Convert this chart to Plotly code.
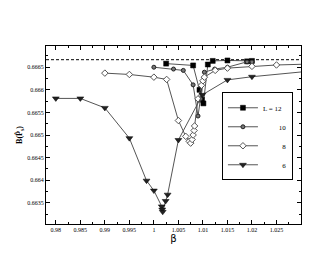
import plotly.graph_objects as go

# L = 12
b12 = [1.0025, 1.008, 1.0093, 1.0098, 1.0101, 1.011, 1.012, 1.015, 1.019, 1.02]
v12 = [0.66658, 0.66654, 0.66600, 0.66578, 0.66570, 0.66656, 0.66664, 0.66665, 0.66663, 0.66664]
# L = 10
b10 = [1.0, 1.004, 1.006, 1.008, 1.009, 1.0095, 1.0103, 1.0124, 1.015, 1.019, 1.02]
v10 = [0.66650, 0.66646, 0.66643, 0.66611, 0.66542, 0.66580, 0.66639, 0.66646, 0.66650, 0.66662, 0.66662]
# L = 8
b8 = [0.99, 0.995, 1.0, 1.0026, 1.005, 1.0065, 1.0072, 1.0075, 1.0078, 1.008, 1.0082, 1.0083,
      1.009, 1.0097, 1.01, 1.0103, 1.0125, 1.015, 1.02, 1.025, 1.035]
v8 = [0.66637, 0.66634, 0.66628, 0.66623, 0.66532, 0.66497, 0.66486, 0.66482, 0.66490, 0.66500,
      0.66510, 0.66520, 0.66580, 0.66610, 0.66620, 0.66628, 0.66643, 0.66648, 0.66652, 0.66655, 0.66658]
# L = 6
b6 = [0.98, 0.985, 0.99, 0.995, 0.9985, 1.0, 1.0016, 1.0017, 1.0018, 1.0024, 1.0028, 1.005,
      1.0099, 1.015, 1.02, 1.04]
v6 = [0.66581, 0.66581, 0.66560, 0.66493, 0.66399, 0.66377, 0.66342, 0.66335, 0.66330, 0.66354,
      0.66368, 0.66489, 0.66589, 0.66622, 0.66629, 0.66650]

names = ["L = 12", "10", "8", "6"]
critical = 2.0 / 3.0
xticks = [0.98, 0.985, 0.99, 0.995, 1.0, 1.005, 1.01, 1.015, 1.02, 1.025]
xlabels = ["0.98", "0.985", "0.99", "0.995", "1", "1.005", "1.01", "1.015", "1.02", "1.025"]
yticks = [0.6635, 0.664, 0.6645, 0.665, 0.6655, 0.666, 0.6665]
ylabels = ["0.6635", "0.664", "0.6645", "0.665", "0.6655", "0.666", "0.6665"]

serif = "Liberation Serif"
line_col = "#555555"
nb = "\u00a0"
pad = [0, 9, 11, 11]

fig = go.Figure()
styles = [
    dict(symbol="square", size=5, color="black", line=dict(color="black", width=0.5)),
    dict(symbol="circle", size=4, color="#777777", line=dict(color="#222222", width=1)),
    dict(symbol="diamond", size=5, color="white", line=dict(color="#555555", width=1)),
    dict(symbol="triangle-down", size=6, color="#222222", line=dict(color="black", width=0.5)),
]
for xs, ys, nm, p, st in zip([b12, b10, b8, b6], [v12, v10, v8, v6], names, pad, styles):
    fig.add_trace(go.Scatter(x=xs, y=ys, mode="lines+markers", name=nb * p + nm,
                             line=dict(color=line_col, width=1), marker=st))

fig.add_shape(type="line", xref="paper", x0=0, x1=1, yref="y", y0=critical, y1=critical,
              line=dict(color="black", width=1, dash="3px,2px"))

axis_common = dict(showgrid=False, zeroline=False, showline=True, linecolor="black",
                   linewidth=1, mirror="allticks", ticks="inside", ticklen=4,
                   tickcolor="black", tickwidth=1,
                   tickfont=dict(family=serif, size=6, color="black"))

fig.update_xaxes(range=[0.978, 1.03], tickvals=xticks, ticktext=xlabels,
                 minor=dict(ticks="inside", ticklen=2, dtick=0.0025, tick0=0.98,
                            tickcolor="black"),
                 title=dict(text="β", font=dict(family="DejaVu Sans", size=10, color="black"),
                            standoff=1),
                 **axis_common)
fig.update_yaxes(range=[0.66303, 0.66697], tickvals=yticks, ticktext=ylabels,
                 minor=dict(ticks="inside", ticklen=2, dtick=0.00025, tick0=0.6635,
                            tickcolor="black"),
                 title=dict(text="<b>B(P\u0302<sub>s</sub>)</b>",
                            font=dict(family=serif, size=8, color="black"), standoff=3),
                 **axis_common)

fig.update_layout(
    width=330, height=255,
    margin=dict(l=38, r=37, t=38, b=39),
    paper_bgcolor="white", plot_bgcolor="white",
    showlegend=True,
    legend=dict(x=0.69, y=0.74, xanchor="left", yanchor="top",
                bordercolor="black", borderwidth=1, bgcolor="white",
                font=dict(family=serif, size=7, color="black"),
                itemwidth=30, tracegroupgap=0),
)

fig.write_html("out.html")
